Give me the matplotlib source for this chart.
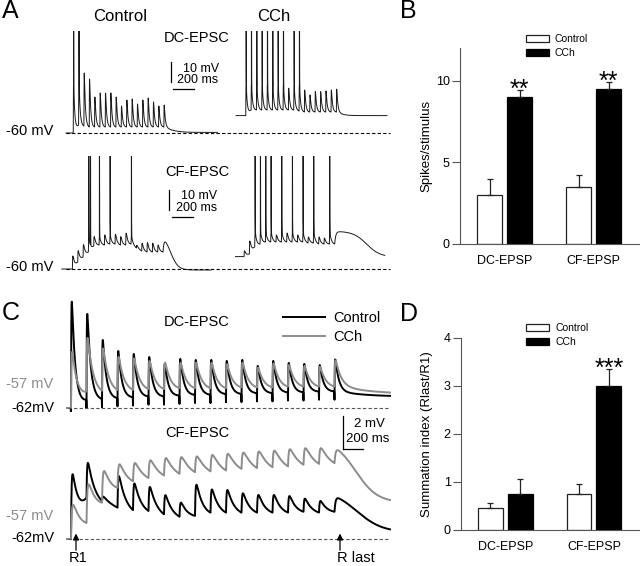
import numpy as np
import matplotlib.pyplot as plt

plt.rcParams['font.family'] = ['Liberation Sans', 'DejaVu Sans']

# ---------------- data ----------------
# A: membrane potential responses to an 18-pulse 20 Hz train, mV above -60 mV
isi_a = 50
a_dc_ctl_peak = [25, 27, 30, 27, 18, 20, 20, 20, 18, 13.5, 16.5, 17, 14.5, 16.5, 17.5, 15.5, 13.5, 14]
a_dc_ctl_trough = [0, 4, 3.5, 3, 3, 3, 3, 3, 3, 3, 3, 3, 3, 3, 3, 3, 3, 3]
a_dc_ctl_spikes = [0, 1]
a_dc_cch_peak = [24, 24, 24, 24, 24, 24, 24, 24, 22.4, 24, 24, 21.5, 19, 20.7, 20.7, 21, 21.5, 22]
a_dc_cch_trough = [8.7, 11.5, 11.5, 11.5, 11.5, 11.5, 11.5, 11.5, 11.5, 11.5, 11, 10.5, 10.5, 10.5, 10.5, 10.5, 10.5, 10.5]
a_dc_cch_spikes = [0, 1, 2, 3, 4, 5, 6, 7, 9, 10]
a_cf_ctl_peak = [6.2, 9, 12, 15, 16.2, 16, 17, 16.5, 17.4, 16.2, 17.9, 16.5, 12, 12.9, 13.2, 12.9, 12, 15.4]
a_cf_ctl_trough = [0, 3.5, 6, 8.5, 11.5, 12, 12, 12.5, 12.5, 12, 12, 12.5, 10.5, 9, 8.5, 8.5, 8.5, 8.5]
a_cf_ctl_spikes = [3, 3, 5, 7, 11]
a_cf_cch_peak = [9, 13.7, 18, 18, 18, 18, 17, 18, 18, 18, 17, 18, 16, 18, 16, 15.5, 18, 18.8]
a_cf_cch_trough = [6.2, 7.5, 11, 12.5, 13.5, 13.5, 13.5, 13.5, 13.5, 13.5, 13.5, 13.5, 13, 13, 12.5, 12.5, 12.5, 12.5]
a_cf_cch_spikes = [2, 3, 4, 5, 7, 9, 11, 13, 16]

# C: subthreshold summation, mV above -62 mV
isi_c = 155
c_dc_ctl_peak = [6.42, 5.7, 4.12, 3.45, 3.27, 3.09, 2.67, 2.97, 2.91, 2.91, 2.85, 2.91, 2.55, 2.85, 2.73, 2.67, 2.6, 2.95]
c_dc_ctl_trough = [0, 0.5, 0.55, 0.6, 0.65, 0.7, 0.7, 0.75, 0.8, 0.8, 0.85, 0.85, 0.9, 0.9, 0.95, 0.95, 1.0, 1.0]
c_dc_cch_peak = [3.33, 4.24, 3.6, 3.1, 3.0, 2.85, 2.75, 2.75, 2.75, 2.75, 2.65, 2.75, 2.45, 2.7, 2.6, 2.55, 2.5, 2.9]
c_dc_cch_trough = [0, 1.0, 1.05, 1.1, 1.1, 1.15, 1.15, 1.2, 1.2, 1.2, 1.2, 1.25, 1.25, 1.25, 1.3, 1.3, 1.3, 1.3]
c_cf_ctl_peak = [3.68, 4.63, 2.6, 3.82, 3.37, 3.17, 2.67, 2.2, 3.27, 3.0, 2.97, 2.77, 2.67, 2.67, 2.6, 2.45, 2.3, 2.6]
c_cf_ctl_trough = [0, 2.5, 2.3, 1.9, 1.75, 1.7, 1.5, 1.35, 1.4, 1.6, 1.6, 1.6, 1.6, 1.6, 1.6, 1.65, 1.6, 1.65]
c_cf_cch_peak = [1.94, 3.15, 4.0, 4.48, 4.58, 4.75, 4.89, 4.95, 5.0, 5.09, 5.15, 5.23, 5.3, 5.35, 5.43, 5.5, 5.5, 5.56]
c_cf_cch_trough = [0, 0.97, 2.2, 3.1, 3.5, 3.7, 3.85, 3.95, 4.05, 4.1, 4.15, 4.25, 4.3, 4.35, 4.4, 4.5, 4.55, 4.6]

# B and D: bar charts
groups = ['DC-EPSP', 'CF-EPSP']
b_ctl, b_ctl_err = [3.0, 3.5], [1.0, 0.73]
b_cch, b_cch_err = [9.0, 9.5], [0.45, 0.44]
b_stars = ['**', '**']
d_ctl, d_ctl_err = [0.46, 0.75], [0.1, 0.21]
d_cch, d_cch_err = [0.75, 3.0], [0.31, 0.36]
d_stars = ['', '***']


# ---------------- helpers ----------------
def kern(s, tr, td, T):
    f = lambda x: (1 - np.exp(-x / tr)) * (np.exp(-x / td) - np.exp(-T / td)) / (1 - np.exp(-T / td))
    g = np.linspace(0, T, 5000)
    return np.clip(f(s), 0, None) / f(g).max()


def spike(s, amp=110):
    f = lambda x: (1 - np.exp(-np.clip(x, 0, None) / 0.25)) * np.exp(-np.clip(x, 0, None) / 0.8)
    g = np.linspace(0, 10, 2000)
    return amp * f(s) / f(g).max()


def make_trace(t, t0, isi, troughs, peaks, tail, tr, td, spikes=(), artifact=0.0):
    # tail = (final level, plateau, rise, half time, width) after the last stimulus
    final, plateau, rise, half, width = tail
    v = np.full(t.shape, float(troughs[0]))
    n = len(peaks)
    for i in range(n):
        ts = t0 + i * isi
        if i < n - 1:
            m = (t >= ts) & (t < ts + isi)
            s = t[m] - ts
            v[m] = (troughs[i] + (troughs[i + 1] - troughs[i]) * s / isi
                    + (peaks[i] - troughs[i]) * kern(s, tr, td, isi))
        else:
            m = t >= ts
            s = t[m] - ts
            drop = (1 + np.exp(-half / width)) / (1 + np.exp((s - half) / width))
            v[m] = (final + (plateau - final) * drop
                    - (plateau - troughs[i]) * np.exp(-s / rise)
                    + (peaks[i] - plateau) * kern(s, tr, td, 6 * isi))
        if artifact:
            v += artifact * np.exp(-((t - ts) / 1.5) ** 2)
    count = {}
    for i in spikes:
        k = count.get(i, 0)
        count[i] = k + 1
        v += spike(t - (t0 + i * isi + 3 + 16 * k))
    return v


W, H = 640, 566
fig = plt.figure(figsize=(6.4, 5.66), dpi=100)


def add_ax(x0, y0, x1, y1):
    return fig.add_axes([x0 / W, 1 - y1 / H, (x1 - x0) / W, (y1 - y0) / H])


def ftext(x, y, s, **kw):
    fig.text(x / W, 1 - y / H, s, **kw)


def trace_ax(y0, y1, base_px, ms_px, mv_px, x_zero, rest):
    ax = add_ax(60, y0, 392, y1)
    ax.set_xlim((60 - x_zero) * ms_px, (392 - x_zero) * ms_px)
    ax.set_ylim(rest - (y1 - base_px) * mv_px, rest + (base_px - y0) * mv_px)
    ax.axis('off')
    return ax


# ---------------- panel A ----------------
ms_a, mv_a = 9.38, 0.5
dt = 0.25
for (y0, y1, base, ctl, cch, hdr, sb) in [
        (31, 140, 133,
         (np.arange(0, 1420, dt), 0, 68, a_dc_ctl_trough, a_dc_ctl_peak, (0.3, 3, 1, 0, 60), 1.5, 10, a_dc_ctl_spikes),
         (np.arange(0, 1416, dt), 1595, 91, a_dc_cch_trough, a_dc_cch_peak, (8.7, 10.5, 1, 0, 40), 1.5, 10, a_dc_cch_spikes),
         ('DC-EPSC', 37.5), (171, 62, 173, 89, 183, 69, 177, 80)),
        (156, 276, 269,
         (np.arange(-40, 1360, dt), 0, 60, a_cf_ctl_trough, a_cf_ctl_peak, (-0.5, 15.4, 8, 70, 35), 2, 15, a_cf_ctl_spikes),
         (np.arange(0, 1400, dt), 1590, 80, a_cf_cch_trough, a_cf_cch_peak, (6.0, 18.8, 10, 300, 63), 2, 15, a_cf_cch_spikes),
         ('CF-EPSC', 172), (169, 190, 172, 217, 181, 196, 176, 208))]:
    ax = trace_ax(y0, y1, base, ms_a, mv_a, 66, -60)
    for t, shift, t0, tro, pk, tail, tr, td, spk in (ctl, cch):
        v = make_trace(t, t0, isi_a, tro, pk, tail, tr, td, spk)
        ax.plot(t + shift, v - 60, color='#1a1a1a', lw=0.7)
    ax.hlines(-60, 0, (390 - 66) * ms_a, color='k', lw=0.8, linestyles=(0, (3, 2)))
    ftext(53, base - 2, '-60 mV', ha='right', va='center', fontsize=10.5)
    ftext(197, hdr[1], hdr[0], ha='center', va='center', fontsize=10.5)
    # scale bar: 10 mV, 200 ms
    vx, vy, hx, hy, tx1, ty1, tx2, ty2 = sb
    xb = (vx - 66) * ms_a
    yb = -60 + (base - vy) * mv_a
    ax.plot([xb, xb], [yb, yb - 10], color='k', lw=0.9, clip_on=False)
    xh = (hx - 66) * ms_a
    yh = -60 + (base - hy) * mv_a
    ax.plot([xh, xh + 200], [yh, yh], color='k', lw=0.9, clip_on=False)
    ftext(tx1, ty1, '10 mV', ha='left', va='center', fontsize=9)
    ftext(tx2, ty2, '200 ms', ha='left', va='center', fontsize=9)

ftext(120, 16.5, 'Control', ha='center', va='center', fontsize=12)
ftext(274, 16.5, 'CCh', ha='center', va='center', fontsize=12)

# ---------------- panel C ----------------
ms_c, mv_c = 10.0, 1 / 16.5
t_c = np.arange(-10, 3220, dt)
axc1 = trace_ax(298, 412, 408, ms_c, mv_c, 68, -62)
axc2 = trace_ax(440, 545, 539, ms_c, mv_c, 68, -62)

v = make_trace(t_c, 30, isi_c, c_dc_ctl_trough, c_dc_ctl_peak, (0.7, 1.0, 1, 0, 200), 3, 35, artifact=-0.5)
l_ctl, = axc1.plot(t_c, v - 62, color='black', lw=1.4, label='Control')
v = make_trace(t_c, 30, isi_c, c_dc_cch_trough, c_dc_cch_peak, (0.85, 1.3, 1, 0, 250), 4, 55)
l_cch, = axc1.plot(t_c, v - 62, color='#8c8c8c', lw=1.4, label='CCh')
v = make_trace(t_c, 30, isi_c, c_cf_ctl_trough, c_cf_ctl_peak, (0.4, 2.6, 10, 220, 130), 6, 70)
axc2.plot(t_c, v - 62, color='black', lw=1.4)
v = make_trace(t_c, 30, isi_c, c_cf_cch_trough, c_cf_cch_peak, (2.2, 5.56, 10, 210, 110), 8, 120)
axc2.plot(t_c, v - 62, color='#8c8c8c', lw=1.4)

for ax, base in ((axc1, 408), (axc2, 539)):
    ax.hlines(-62, 0, (390 - 68) * ms_c, color='#555555', lw=0.8, linestyles=(0, (3, 2)))
    ftext(53, base - 23.5, '-57 mV', ha='right', va='center', fontsize=10.5, color='#8c8c8c')
    ftext(55, base - 0.5, '-62mV', ha='right', va='center', fontsize=10.5)

ftext(197, 322, 'DC-EPSC', ha='center', va='center', fontsize=10.5)
ftext(197, 433, 'CF-EPSC', ha='center', va='center', fontsize=10.5)

# scale bar 2 mV / 200 ms
xs = (343 - 68) * ms_c
ys = -62 + (539 - 449) * mv_c
axc2.plot([xs, xs], [ys, ys + 2], color='k', lw=0.9, clip_on=False)
axc2.plot([xs, xs + 200], [ys, ys], color='k', lw=0.9, clip_on=False)
ftext(354, 424, '2 mV', ha='left', va='center', fontsize=9.5)
ftext(346, 439, '200 ms', ha='left', va='center', fontsize=9.5)

# R1 / R last arrows
for t_arrow, label, lx in ((30 + 50, 'R1', 78.5), (30 + 17 * isi_c + 55, 'R last', 356)):
    axc2.annotate('', xy=(t_arrow, -62 + 0.5), xytext=(t_arrow, -62 - 0.85),
                  arrowprops=dict(arrowstyle='-|>', color='k', lw=0.9, mutation_scale=9),
                  annotation_clip=False)
    ftext(lx, 558.5, label, ha='center', va='center', fontsize=10.5)

fs_leg = 10.5
axc1.legend(handles=[l_ctl, l_cch], loc='upper left', bbox_to_anchor=(283 / W, 1 - 311 / H),
            bbox_transform=fig.transFigure, frameon=False, fontsize=fs_leg, borderpad=0,
            borderaxespad=0, handlelength=2.9, handletextpad=0.55, labelspacing=0.37)


# ---------------- panels B and D ----------------
def bar_panel(ax, ctl, ctl_err, cch, cch_err, stars, ylim, yticks, leg_top):
    x = np.arange(len(groups))
    w, off = 0.28, 0.168
    ax.bar(x - off, ctl, w, color='white', edgecolor='#222222', lw=0.9, label='Control')
    ax.bar(x + off, cch, w, color='black', edgecolor='black', lw=0.9, label='CCh')
    for xs_, m, e in ((x - off, ctl, ctl_err), (x + off, cch, cch_err)):
        ax.errorbar(xs_, m, yerr=[np.zeros(len(m)), e], fmt='none', ecolor='#222222',
                    elinewidth=0.9, capsize=2.5, capthick=0.9)
    for xi, m, e, s in zip(x + off, cch, cch_err, stars):
        ax.annotate(s, xy=(xi, m + e), xytext=(0, -5), textcoords='offset points',
                    ha='center', va='baseline', fontsize=18)
    ax.set_xlim(-0.5, 1.52)
    ax.set_ylim(*ylim)
    ax.set_yticks(yticks)
    ax.set_xticks(x, groups)
    ax.tick_params(axis='x', length=0, pad=8, labelsize=9)
    ax.tick_params(axis='y', length=5.5, width=0.8, color='#555555', labelsize=9, pad=2)
    for sp in ('top', 'right'):
        ax.spines[sp].set_visible(False)
    for sp in ('left', 'bottom'):
        ax.spines[sp].set_color('#555555')
        ax.spines[sp].set_linewidth(0.8)
    ax.legend(loc='upper left', bbox_to_anchor=(0.365, leg_top), frameon=False, fontsize=7.5,
              borderpad=0, borderaxespad=0, handlelength=2.2, handleheight=0.7,
              handletextpad=0.6, labelspacing=0.4)


axb = add_ax(460, 48, 640, 244)
bar_panel(axb, b_ctl, b_ctl_err, b_cch, b_cch_err, b_stars, (0, 12), [0, 5, 10], 1.072)
ftext(426, 146, 'Spikes/stimulus', rotation=90, ha='center', va='center', fontsize=9.5)

axd = add_ax(461, 338, 640, 530)
bar_panel(axd, d_ctl, d_ctl_err, d_cch, d_cch_err, d_stars, (0, 4), [0, 1, 2, 3, 4], 1.079)
ftext(427, 434, 'Summation index (Rlast/R1)', rotation=90, ha='center', va='center', fontsize=9.5)

# panel letters
for s, x, y in (('A', 2, 11), ('B', 400, 11.5), ('C', 2, 312.5), ('D', 400, 314)):
    ftext(x, y, s, ha='left', va='center', fontsize=18)

fig.savefig('out.png', dpi=100)
